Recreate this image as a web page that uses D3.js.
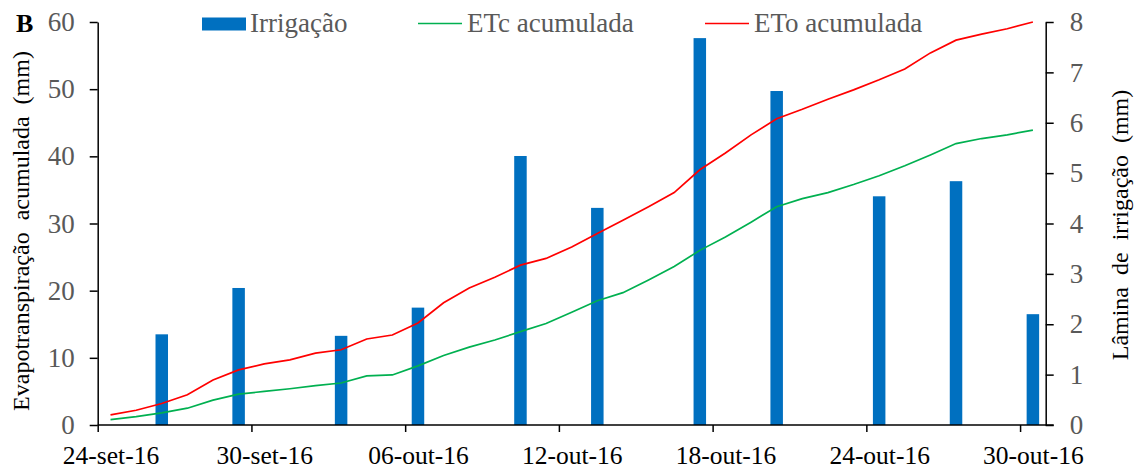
<!DOCTYPE html>
<html>
<head>
<meta charset="utf-8">
<script src="https://cdn.jsdelivr.net/npm/d3@7"></script>
<style>
  html, body { margin: 0; padding: 0; background: #fff; }
  svg text { font-family: "Liberation Serif", "Times New Roman", serif; }
</style>
</head>
<body>
<svg id="chart" width="1138" height="470"></svg>
<script>
// ---- Data ----
const startDate = "2016-09-24";
const endDate = "2016-10-31";
// daily accumulated values (one per day, 24-set-16 .. 30-out-16)
const etoAcumulada = [1.5, 2.2, 3.2, 4.5, 6.7, 8.2, 9.1, 9.7, 10.7, 11.2, 12.8, 13.4,
  15.2, 18.2, 20.4, 22.0, 23.8, 24.8, 26.5, 28.5, 30.5, 32.5, 34.6, 38.0, 40.5, 43.2,
  45.6, 47.0, 48.5, 49.9, 51.4, 53.0, 55.4, 57.3, 58.2, 59.0, 60.0];
const etcAcumulada = [0.8, 1.25, 1.8, 2.5, 3.7, 4.6, 5.0, 5.4, 5.85, 6.25, 7.3, 7.45,
  8.8, 10.35, 11.6, 12.65, 13.9, 15.1, 16.8, 18.5, 19.7, 21.6, 23.6, 26.0, 28.0, 30.2,
  32.5, 33.7, 34.6, 35.8, 37.1, 38.6, 40.2, 41.9, 42.65, 43.2, 43.9];
const irrigDates = ["2016-09-26", "2016-09-29", "2016-10-03", "2016-10-06", "2016-10-10",
  "2016-10-13", "2016-10-17", "2016-10-20", "2016-10-24", "2016-10-27", "2016-10-30"];
const irrigValues = [1.80, 2.72, 1.77, 2.33, 5.34, 4.31, 7.68, 6.63, 4.54, 4.84, 2.20];
const leftTicks = [0, 10, 20, 30, 40, 50, 60];
const rightTicks = [0, 1, 2, 3, 4, 5, 6, 7, 8];
const xTickDates = ["2016-09-24", "2016-09-30", "2016-10-06", "2016-10-12", "2016-10-18",
  "2016-10-24", "2016-10-30"];
const monthNames = ["jan", "fev", "mar", "abr", "mai", "jun", "jul", "ago", "set", "out", "nov", "dez"];
const seriesNames = ["Irrigação", "ETc acumulada", "ETo acumulada"];

// ---- Setup ----
const parse = d3.utcParse("%Y-%m-%d");
const DAY = 864e5;
const svg = d3.select("#chart");
const L = 97.7, R = 1045.7, T = 22, B = 425;

const x = d3.scaleUtc().domain([parse(startDate), parse(endDate)]).range([L, R]);
const yL = d3.scaleLinear().domain([0, 60]).range([B, T]);
const yR = d3.scaleLinear().domain([0, 8]).range([B, T]);
const mid = d => new Date(d.getTime() + DAY / 2);
const halfDay = x(mid(parse(startDate))) - x(parse(startDate));

const days = etoAcumulada.map((v, i) => new Date(parse(startDate).getTime() + i * DAY));

// ---- Bars ----
const barW = 12.5;
svg.append("g").selectAll("rect")
  .data(irrigDates.map((d, i) => ({ date: parse(d), v: irrigValues[i] })))
  .join("rect")
  .attr("x", d => x(mid(d.date)) - barW / 2)
  .attr("width", barW)
  .attr("y", d => yR(d.v))
  .attr("height", d => yR(0) - yR(d.v))
  .attr("fill", "#0070C0");

// ---- Lines ----
const line = d3.line().x((d, i) => x(mid(days[i]))).y(d => yL(d));
svg.append("path").datum(etcAcumulada).attr("d", line)
  .attr("fill", "none").attr("stroke", "#00B050").attr("stroke-width", 1.7);
svg.append("path").datum(etoAcumulada).attr("d", line)
  .attr("fill", "none").attr("stroke", "#FF0000").attr("stroke-width", 1.7);

// ---- Axes ----
const fmt = d => `${d3.utcFormat("%d")(d)}-${monthNames[d.getUTCMonth()]}-${d3.utcFormat("%y")(d)}`;
const xAxis = svg.append("g").attr("transform", `translate(0,${B})`)
  .call(d3.axisBottom(x).tickValues(xTickDates.map(parse)).tickFormat(fmt).tickSize(7).tickSizeOuter(0));
const lAxis = svg.append("g").attr("transform", `translate(${L},0)`)
  .call(d3.axisLeft(yL).tickValues(leftTicks).tickSize(8).tickSizeOuter(0).tickPadding(15));
const rAxis = svg.append("g").attr("transform", `translate(${R},0)`)
  .call(d3.axisRight(yR).tickValues(rightTicks).tickSize(8).tickSizeOuter(0).tickPadding(16));

[xAxis, lAxis, rAxis].forEach(g => {
  g.selectAll("path, line").attr("stroke", "#000").attr("stroke-width", 1.5);
  g.selectAll("text").attr("font-family", "Liberation Serif");
});
xAxis.selectAll("text").attr("fill", "#000").attr("font-size", 25.5)
  .attr("dy", null).attr("y", 39).attr("x", halfDay);
lAxis.selectAll("text").attr("fill", "#595959").attr("font-size", 27);
rAxis.selectAll("text").attr("fill", "#595959").attr("font-size", 27);
xAxis.select(".domain").attr("d", `M${L},0H${R + 8}`);

// ---- Axis titles ----
svg.append("text")
  .attr("transform", `translate(29,231) rotate(-90)`)
  .attr("text-anchor", "middle").attr("font-size", 24).attr("fill", "#000")
  .attr("xml:space", "preserve")
  .text("Evapotranspiração  acumulada  (mm)");
svg.append("text")
  .attr("transform", `translate(1128,225) rotate(-90)`)
  .attr("text-anchor", "middle").attr("font-size", 24).attr("fill", "#000")
  .attr("xml:space", "preserve")
  .text("Lâmina  de  irrigação  (mm)");

svg.append("text").attr("x", 16).attr("y", 32).attr("font-size", 26)
  .attr("font-weight", "bold").attr("fill", "#000").text("B");

// ---- Legend ----
const lg = svg.append("g");
lg.append("rect").attr("x", 202).attr("y", 17.5).attr("width", 44).attr("height", 13).attr("fill", "#0070C0");
lg.append("text").attr("x", 250).attr("y", 32).attr("font-size", 27).attr("fill", "#595959").text(seriesNames[0]);
lg.append("line").attr("x1", 418).attr("x2", 462).attr("y1", 23.5).attr("y2", 23.5)
  .attr("stroke", "#00B050").attr("stroke-width", 1.7);
lg.append("text").attr("x", 467).attr("y", 32).attr("font-size", 27).attr("fill", "#595959").text(seriesNames[1]);
lg.append("line").attr("x1", 705).attr("x2", 749).attr("y1", 23.5).attr("y2", 23.5)
  .attr("stroke", "#FF0000").attr("stroke-width", 1.7);
lg.append("text").attr("x", 754).attr("y", 32).attr("font-size", 27).attr("fill", "#595959").text(seriesNames[2]);
</script>
</body>
</html>
